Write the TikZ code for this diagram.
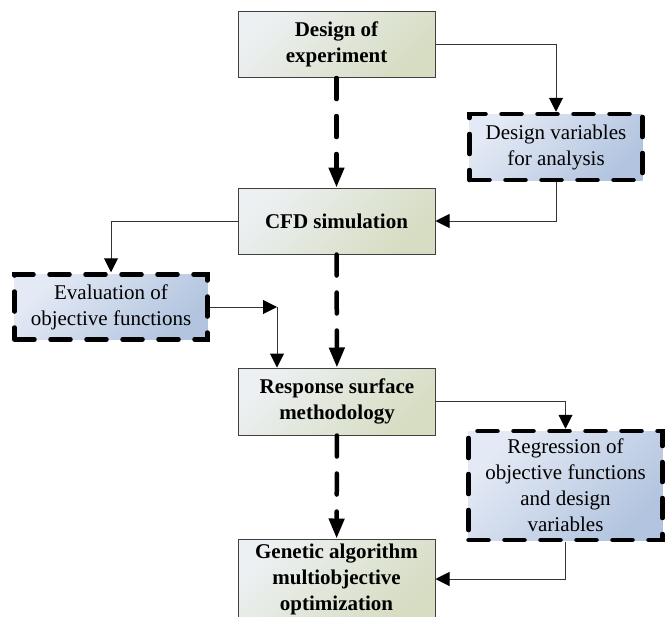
\documentclass[tikz,border=0pt]{standalone}
\usepackage{fontspec}
\setmainfont{Liberation Serif}
\usetikzlibrary{arrows.meta}

\definecolor{mainlight}{HTML}{ECF0F2}
\definecolor{maindark}{HTML}{D6DDC2}
\definecolor{varlight}{HTML}{E4EAF5}
\definecolor{vardark}{HTML}{B2C4DF}

\begin{document}
\begin{tikzpicture}[x=1pt, y=-1pt,
    mainbox/.style={rectangle, draw=black!75, line width=1pt,
      top color=mainlight, bottom color=maindark, shading angle=45,
      minimum width=197pt, minimum height=66pt, inner sep=0pt,
      align=center, font=\fontsize{21}{26}\selectfont\bfseries},
    varbox/.style={rectangle, draw=black, line width=4.5pt,
      dash pattern=on 20pt off 16pt, line cap=round,
      top color=varlight, bottom color=vardark, shading angle=45,
      inner sep=0pt, align=center,
      font=\fontsize{21}{26}\selectfont},
    flow/.style={-{Triangle[length=20pt,width=15pt]}, line width=4.5pt,
      dash pattern=on 21pt off 17pt, line cap=round},
    link/.style={-{Triangle[length=14pt,width=14pt,color=black]},
      draw=black!80, line width=1pt}
  ]
    \useasboundingbox (0,0) rectangle (666,616);

    % Boxes
    \node[mainbox] (doe) at (336.5,44.5) {Design of\\experiment};
    \node[varbox, minimum width=173pt, minimum height=66pt] (vars)
      at (556,147) {Design variables\\for analysis};
    \node[mainbox] (cfd) at (336.5,221) {CFD simulation};
    \node[varbox, minimum width=193pt, minimum height=65pt] (evalobj)
      at (111,307) {Evaluation of\\objective functions};
    \node[mainbox, minimum height=67pt] (rsm) at (337,401.5)
      {Response surface\\methodology};
    \node[varbox, minimum width=194pt, minimum height=109pt] (regr)
      at (565.5,485.5) {Regression of\\objective functions\\and design\\variables};
    \node[mainbox, minimum height=80pt] (ga) at (336.5,579)
      {Genetic algorithm\\multiobjective\\optimization};
    \coordinate (bend) at (277,307);

    % Main flow
    \draw[flow] (doe) -- (cfd);
    \draw[flow] (cfd) -- (rsm);
    \draw[flow] (rsm) -- (ga);

    % Side links
    \draw[link] (doe.east) -| (vars.north);
    \draw[link] (vars.south) |- (cfd.east);
    \draw[link] (cfd.west) -| (evalobj.north);
    \draw[link] (evalobj.east) -- (bend);
    \draw[link] (bend) -- (bend |- rsm.north);
    \draw[link] (rsm.east) -| (regr.north);
    \draw[link] (regr.south) |- (ga.east);
  \end{tikzpicture}
\end{document}
